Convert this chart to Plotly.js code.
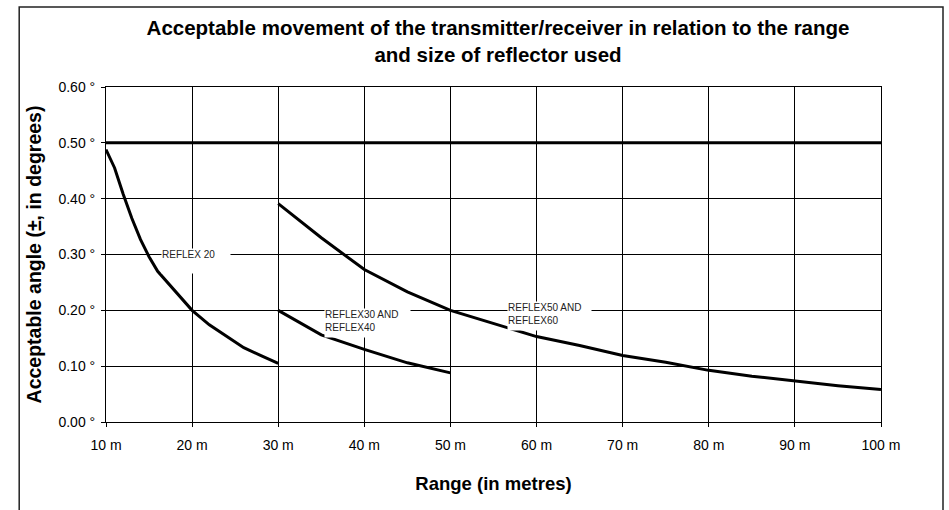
<!DOCTYPE html>
<html>
<head>
<meta charset="utf-8">
<script src="https://cdn.plot.ly/plotly-3.0.1.min.js"></script>
<style>
  html, body { margin: 0; padding: 0; background: #fff; }
  #chart { width: 949px; height: 510px; }
</style>
</head>
<body>
<div id="chart"></div>
<script>
// ---- data ----
const limitX = [10, 100];
const limitY = [0.5, 0.5];

const reflex20X = [10, 11, 12, 13, 14, 15, 16, 18, 20, 22, 24, 26, 28, 30];
const reflex20Y = [0.488, 0.455, 0.408, 0.365, 0.327, 0.296, 0.270, 0.234, 0.200, 0.174, 0.153, 0.133, 0.119, 0.105];

const reflex30X = [30, 35, 40, 45, 50];
const reflex30Y = [0.200, 0.156, 0.130, 0.106, 0.088];

const reflex50X = [30, 35, 40, 45, 50, 55, 60, 65, 70, 75, 80, 85, 90, 95, 100];
const reflex50Y = [0.391, 0.330, 0.273, 0.233, 0.200, 0.177, 0.153, 0.137, 0.119, 0.107, 0.0925, 0.082, 0.073, 0.065, 0.058];

const xTickVals = [10, 20, 30, 40, 50, 60, 70, 80, 90, 100];
const xTickText = ["10 m", "20 m", "30 m", "40 m", "50 m", "60 m", "70 m", "80 m", "90 m", "100 m"];
const yTickVals = [0, 0.1, 0.2, 0.3, 0.4, 0.5, 0.6];
const yTickText = ["0.00 °", "0.10 °", "0.20 °", "0.30 °", "0.40 °", "0.50 °", "0.60 °"];

const labelText = ["REFLEX 20", "REFLEX30 AND<br>REFLEX40", "REFLEX50 AND<br>REFLEX60"];

// ---- chart ----
const FONT = "Liberation Sans, Arial, sans-serif";
const lineStyle = { color: "#000", width: 3 };

const traces = [
  { x: limitX, y: limitY, mode: "lines", line: lineStyle, name: "limit", hoverinfo: "skip" },
  { x: reflex20X, y: reflex20Y, mode: "lines", line: lineStyle, name: labelText[0] },
  { x: reflex30X, y: reflex30Y, mode: "lines", line: lineStyle, name: "REFLEX30 AND REFLEX40" },
  { x: reflex50X, y: reflex50Y, mode: "lines", line: lineStyle, name: "REFLEX50 AND REFLEX60" }
];

const annFont = { family: FONT, size: 10, color: "#222" };

const layout = {
  width: 949,
  height: 510,
  margin: { l: 106, r: 68, t: 87, b: 88 },
  paper_bgcolor: "#fff",
  plot_bgcolor: "#fff",
  showlegend: false,
  font: { family: FONT, color: "#000" },
  title: {
    text: "Acceptable movement of the transmitter/receiver in relation to the range<br>and size of reflector used",
    font: { family: FONT, size: 20.5, color: "#000", weight: "bold" },
    x: 0.5248, xanchor: "center",
    y: 0.9314, yanchor: "middle"
  },
  xaxis: {
    range: [10, 100],
    tickvals: xTickVals,
    ticktext: xTickText,
    showgrid: true, gridcolor: "#000", gridwidth: 1,
    showline: true, linecolor: "#000", linewidth: 1, mirror: true,
    ticks: "outside", ticklen: 4, tickcolor: "#000",
    ticklabelstandoff: 6,
    tickfont: { family: FONT, size: 14, color: "#000" },
    zeroline: false,
    title: { text: "Range (in metres)", font: { family: FONT, size: 18.5, color: "#000", weight: "bold" }, standoff: 25 }
  },
  yaxis: {
    range: [0, 0.6],
    tickvals: yTickVals,
    ticktext: yTickText,
    showgrid: true, gridcolor: "#000", gridwidth: 1,
    showline: true, linecolor: "#000", linewidth: 1, mirror: true,
    ticks: "outside", ticklen: 4, tickcolor: "#000",
    ticklabelstandoff: 3,
    tickfont: { family: FONT, size: 14, color: "#000" },
    zeroline: false,
    title: { text: "Acceptable angle (±, in degrees)", font: { family: FONT, size: 19.5, color: "#000", weight: "bold" }, standoff: 11 }
  },
  shapes: [
    { type: "rect", xref: "paper", yref: "paper",
      x0: -0.112, x1: 1.08, y0: -0.3, y1: 1.2388,
      line: { color: "#222", width: 1.5 }, fillcolor: "rgba(0,0,0,0)", layer: "below" }
  ],
  annotations: [
    { text: labelText[0], xref: "x", yref: "y", x: 20.42, y: 0.288,
      showarrow: false, bgcolor: "#fff", width: 68, height: 24,
      align: "left", valign: "top", borderpad: 0, font: annFont },
    { text: labelText[1], xref: "x", yref: "y", x: 40.34, y: 0.178,
      showarrow: false, bgcolor: "#fff", width: 85, height: 28,
      align: "left", valign: "top", borderpad: 0, font: annFont },
    { text: labelText[2], xref: "x", yref: "y", x: 61.47, y: 0.1907,
      showarrow: false, bgcolor: "#fff", width: 83, height: 28,
      align: "left", valign: "top", borderpad: 0, font: annFont }
  ]
};

Plotly.newPlot("chart", traces, layout, { staticPlot: true, displayModeBar: false });
</script>
</body>
</html>
